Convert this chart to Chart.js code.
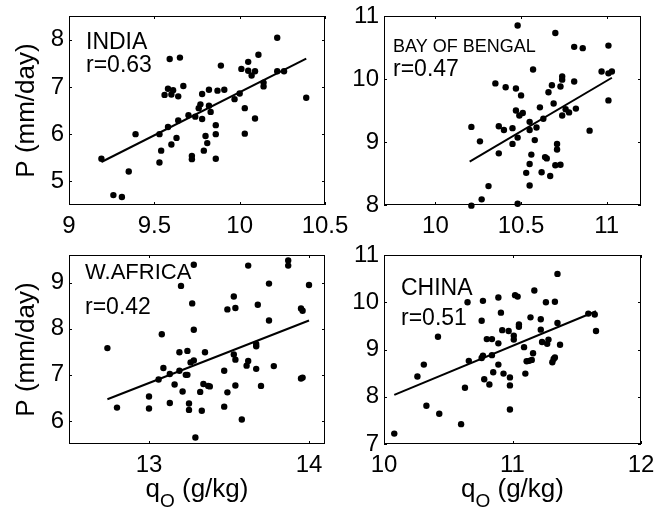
<!DOCTYPE html>
<html>
<head>
<meta charset="utf-8">
<script src="https://cdn.jsdelivr.net/npm/chart.js@4.4.1/dist/chart.umd.min.js"></script>
<style>
  body { margin: 0; background: #fff; }
  #wrap { position: relative; width: 665px; height: 509px; }
  #wrap canvas { position: absolute; left: 0; top: 0; }
</style>
</head>
<body>
<div id="wrap">
  <canvas id="india" width="665" height="509"></canvas>
  <canvas id="bengal" width="665" height="509"></canvas>
  <canvas id="africa" width="665" height="509"></canvas>
  <canvas id="china" width="665" height="509"></canvas>
</div>
<script>
// INDIA
const indiaQ = [9.19, 9.26, 9.31, 9.35, 9.39, 9.53, 9.53, 9.54, 9.58, 9.58, 9.56, 9.59, 9.60, 9.60, 9.61, 9.63,
  9.64, 9.64, 9.65, 9.67, 9.70, 9.72, 9.72, 9.74, 9.76, 9.77, 9.78, 9.78, 9.79, 9.80, 9.81, 9.82, 9.82, 9.83,
  9.86, 9.86, 9.86, 9.87, 9.89, 9.91, 9.97, 10.00, 10.01, 10.03, 10.03, 10.05, 10.05, 10.07, 10.09, 10.09,
  10.11, 10.14, 10.14, 10.22, 10.22, 10.26, 10.39];
const indiaP = [5.48, 4.71, 4.67, 5.21, 6.00, 5.40, 6.00, 5.65, 6.15, 6.96, 6.83, 7.59, 6.84, 5.78, 6.93, 5.92,
  6.29, 6.80, 7.62, 7.02, 6.40, 5.54, 5.47, 6.37, 6.55, 6.63, 6.85, 6.32, 5.65, 5.96, 5.81, 6.60, 6.94, 6.47,
  6.19, 6.00, 5.48, 6.92, 7.45, 6.94, 6.74, 6.86, 7.38, 6.55, 6.01, 7.53, 7.34, 7.24, 7.33, 6.33,
  7.68, 7.01, 7.09, 8.04, 7.33, 7.33, 6.77];
const indiaFitQ = [9.19, 10.39];
const indiaFitP = [5.41, 7.60];

// BAY OF BENGAL
const bengalQ = [10.21, 10.21, 10.26, 10.27, 10.31, 10.35, 10.37, 10.37, 10.40, 10.41, 10.45, 10.45, 10.47,
  10.47, 10.48, 10.48, 10.50, 10.49, 10.51, 10.48, 10.53, 10.55, 10.55, 10.55, 10.55, 10.56, 10.57, 10.58,
  10.59, 10.61, 10.62, 10.63, 10.64, 10.65, 10.66, 10.68, 10.67, 10.69, 10.70, 10.70, 10.71, 10.71, 10.73,
  10.73, 10.74, 10.74, 10.74, 10.76, 10.78, 10.81, 10.81, 10.82, 10.86, 10.90, 10.97, 11.01, 11.01, 11.01, 11.03];
const bengalP = [9.24, 7.99, 9.01, 8.09, 8.30, 9.93, 8.82, 9.25, 9.19, 9.87, 9.22, 8.97, 9.85,
  9.50, 9.07, 10.85, 9.74, 9.42, 9.46, 8.02, 8.51, 9.32, 9.19, 8.31, 8.65, 8.80, 10.15, 9.03,
  9.23, 9.55, 8.52, 9.37, 8.76, 8.74, 9.79, 9.90, 8.46, 9.61, 10.73, 8.63, 8.88, 8.97, 8.64,
  9.88, 10.04, 9.99, 9.42, 9.52, 9.47, 9.96, 10.51, 9.53, 10.49, 9.18, 10.12, 10.53, 9.66, 10.09, 10.12];
const bengalFitQ = [10.20, 11.03];
const bengalFitP = [8.69, 10.02];

// W.AFRICA
const africaQ = [12.74, 12.80, 13.00, 13.00, 13.06, 13.08, 13.09, 13.13, 13.13, 13.16, 13.19, 13.19, 13.20,
  13.21, 13.23, 13.24, 13.24, 13.25, 13.25, 13.26, 13.27, 13.28, 13.28, 13.28, 13.29, 13.32, 13.33, 13.34,
  13.35, 13.37, 13.38, 13.47, 13.47, 13.49, 13.49, 13.53, 13.53, 13.54, 13.54, 13.54, 13.58, 13.62, 13.61,
  13.62, 13.67, 13.67, 13.67, 13.68, 13.70, 13.75, 13.75, 13.78, 13.87, 13.87, 13.95, 13.96, 13.95, 13.96, 14.00];
const africaP = [7.58, 6.29, 6.53, 6.27, 6.90, 7.88, 7.15, 7.02, 6.39, 6.79, 7.09, 7.49, 8.93,
  6.64, 7.00, 7.00, 7.52, 6.38, 6.24, 7.27, 8.55, 7.31, 9.39, 7.98, 5.64, 6.63, 6.22, 6.80,
  7.49, 6.76, 6.75, 7.09, 6.31, 6.62, 8.42, 8.70, 7.44, 8.45, 6.77, 7.33, 6.03, 9.37, 7.20,
  7.30, 7.13, 7.62, 7.67, 8.52, 6.76, 8.98, 8.18, 7.19, 9.48, 9.37, 6.92, 6.94, 8.44, 8.39, 8.95];
const africaFitQ = [12.74, 14.00];
const africaFitP = [6.47, 8.18];

// CHINA
const chinaQ = [10.08, 10.26, 10.31, 10.33, 10.42, 10.43, 10.60, 10.63, 10.65, 10.66, 10.76, 10.76, 10.77,
  10.77, 10.78, 10.80, 10.82, 10.84, 10.84, 10.85, 10.89, 10.89, 10.89, 10.91, 10.92, 10.93, 10.97, 10.98,
  10.98, 10.98, 11.01, 11.01, 11.02, 11.04, 11.05, 11.05, 11.09, 11.10, 11.11, 11.13, 11.14, 11.15, 11.16,
  11.17, 11.22, 11.22, 11.23, 11.26, 11.27, 11.28, 11.31, 11.32, 11.33, 11.33, 11.35, 11.35, 11.37, 11.59,
  11.64, 11.65];
const chinaP = [7.22, 8.43, 8.68, 7.81, 9.27, 7.64, 7.42, 8.19, 10.00, 8.76, 9.61, 8.82, 10.03,
  8.87, 8.37, 9.22, 8.26, 9.22, 8.88, 8.52, 10.10, 9.13, 8.68, 9.78, 9.41, 8.49, 9.39, 8.41,
  8.24, 7.73, 9.29, 9.21, 10.15, 10.12, 9.48, 9.53, 9.05, 8.49, 8.75, 8.76, 9.68, 8.78, 8.92,
  10.25, 9.64, 9.42, 9.16, 10.00, 9.12, 9.21, 8.73, 8.80, 10.01, 8.83, 10.60, 9.56, 9.10, 9.76,
  9.74, 9.39];
const chinaFitQ = [10.08, 11.65];
const chinaFitP = [8.04, 9.81];

// tick labels
const indiaXTicks = [9, 9.5, 10, 10.5];
const indiaYTicks = [5, 6, 7, 8];
const bengalXTicks = [10, 10.5, 11];
const bengalYTicks = [8, 9, 10, 11];
const africaXTicks = [13, 14];
const africaYTicks = [6, 7, 8, 9];
const chinaXTicks = [10, 11, 12];
const chinaYTicks = [7, 8, 9, 10, 11];

const FONT = "'Liberation Sans', Arial, Helvetica, sans-serif";
const W = 665, H = 509;

// frame, inward ticks, region label and x title with subscript
const framePlugin = {
  id: 'frame',
  afterDraw(chart, args, opts) {
    const { ctx, chartArea: a, scales } = chart;
    ctx.save();
    ctx.strokeStyle = '#000';
    ctx.lineWidth = 1;
    ctx.strokeRect(Math.round(a.left) + 0.5, Math.round(a.top) + 0.5,
      Math.round(a.width) - 1, Math.round(a.height) - 1);
    const tl = 3;
    ctx.beginPath();
    scales.x.ticks.forEach(t => {
      const px = Math.round(scales.x.getPixelForValue(t.value)) + 0.5;
      ctx.moveTo(px, a.bottom); ctx.lineTo(px, a.bottom - tl);
      ctx.moveTo(px, a.top); ctx.lineTo(px, a.top + tl);
    });
    scales.y.ticks.forEach(t => {
      const py = Math.round(scales.y.getPixelForValue(t.value)) + 0.5;
      ctx.moveTo(a.left, py); ctx.lineTo(a.left + tl, py);
      ctx.moveTo(a.right, py); ctx.lineTo(a.right - tl, py);
    });
    ctx.stroke();

    // region name and correlation
    ctx.fillStyle = '#000';
    ctx.textBaseline = 'alphabetic';
    ctx.textAlign = 'left';
    ctx.font = opts.nameSize + 'px ' + FONT;
    ctx.fillText(opts.name, a.left + opts.dx, a.top + opts.nameY);
    ctx.font = '23px ' + FONT;
    ctx.fillText(opts.r, a.left + opts.dx, a.top + opts.rY);

    // x axis title: q_O (g/kg)
    if (opts.xTitle) {
      const base = a.bottom + 53;
      ctx.font = '26px ' + FONT;
      const wq = ctx.measureText('q').width;
      const rest = ' (g/kg)';
      const wr = ctx.measureText(rest).width;
      ctx.font = '19px ' + FONT;
      const wo = ctx.measureText('O').width;
      const total = wq + wo + wr;
      let x = (a.left + a.right) / 2 - total / 2;
      ctx.font = '26px ' + FONT;
      ctx.fillText('q', x, base);
      x += wq;
      ctx.font = '19px ' + FONT;
      ctx.fillText('O', x, base + 10);
      x += wo;
      ctx.font = '26px ' + FONT;
      ctx.fillText(rest, x, base);
    }
    ctx.restore();
  }
};

function makePanel(id, q, p, fitQ, fitP, xMin, xMax, yMin, yMax, xTicks, yTicks, box, label) {
  const yW = box.yTitle ? box.left : 60;
  new Chart(document.getElementById(id), {
    type: 'scatter',
    data: {
      datasets: [
        {
          data: q.map((v, i) => ({ x: v, y: p[i] })),
          backgroundColor: '#000',
          borderWidth: 0,
          pointRadius: 3.2,
          pointHoverRadius: 3.2,
          clip: false
        },
        {
          type: 'line',
          data: fitQ.map((v, i) => ({ x: v, y: fitP[i] })),
          borderColor: '#000',
          borderWidth: 2,
          pointRadius: 0,
          fill: false
        }
      ]
    },
    options: {
      responsive: false,
      animation: false,
      events: [],
      layout: {
        padding: { left: box.left - yW, top: box.top, right: W - box.right, bottom: 0 }
      },
      plugins: {
        legend: { display: false },
        tooltip: { enabled: false },
        frame: label
      },
      scales: {
        x: {
          type: 'linear',
          min: xMin,
          max: xMax,
          grid: { display: false, drawTicks: false },
          border: { display: false },
          afterBuildTicks: s => { s.ticks = xTicks.map(v => ({ value: v })); },
          afterFit: s => {
            s.height = H - box.bottom;
            s.paddingLeft = 0; s.paddingRight = 0; s.paddingTop = 0; s.paddingBottom = 0;
          },
          ticks: {
            autoSkip: false,
            maxRotation: 0,
            padding: 7,
            color: '#000',
            font: { family: FONT, size: 24 },
            callback: v => String(v)
          }
        },
        y: {
          type: 'linear',
          min: yMin,
          max: yMax,
          grid: { display: false, drawTicks: false },
          border: { display: false },
          afterBuildTicks: s => { s.ticks = yTicks.map(v => ({ value: v })); },
          afterFit: s => {
            s.width = yW;
            s.paddingLeft = 0; s.paddingRight = 0; s.paddingTop = 0; s.paddingBottom = 0;
          },
          title: {
            display: !!box.yTitle,
            text: 'P (mm/day)',
            color: '#000',
            font: { family: FONT, size: 26 },
            padding: { top: 11, bottom: 0 }
          },
          ticks: {
            autoSkip: false,
            padding: 5,
            color: '#000',
            font: { family: FONT, size: 24 },
            callback: v => String(v)
          }
        }
      }
    },
    plugins: [framePlugin]
  });
}

makePanel('india', indiaQ, indiaP, indiaFitQ, indiaFitP, 9, 10.5, 4.5, 8.5, indiaXTicks, indiaYTicks,
  { left: 69, top: 16, right: 325, bottom: 205, yTitle: true },
  { name: 'INDIA', nameSize: 23, r: 'r=0.63', dx: 17, nameY: 33, rY: 56, xTitle: false });

makePanel('bengal', bengalQ, bengalP, bengalFitQ, bengalFitP, 9.7, 11.2, 8, 11, bengalXTicks, bengalYTicks,
  { left: 384, top: 16, right: 641, bottom: 205, yTitle: false },
  { name: 'BAY OF BENGAL', nameSize: 18, r: 'r=0.47', dx: 9, nameY: 36, rY: 60, xTitle: false });

makePanel('africa', africaQ, africaP, africaFitQ, africaFitP, 12.5, 14.1, 5.5, 9.6, africaXTicks, africaYTicks,
  { left: 69, top: 255, right: 325, bottom: 444, yTitle: true },
  { name: 'W.AFRICA', nameSize: 22, r: 'r=0.42', dx: 16, nameY: 24, rY: 59, xTitle: true });

makePanel('china', chinaQ, chinaP, chinaFitQ, chinaFitP, 10, 12, 7, 11, chinaXTicks, chinaYTicks,
  { left: 384, top: 255, right: 641, bottom: 444, yTitle: false },
  { name: 'CHINA', nameSize: 23, r: 'r=0.51', dx: 17, nameY: 40, rY: 70, xTitle: true });
</script>
</body>
</html>
